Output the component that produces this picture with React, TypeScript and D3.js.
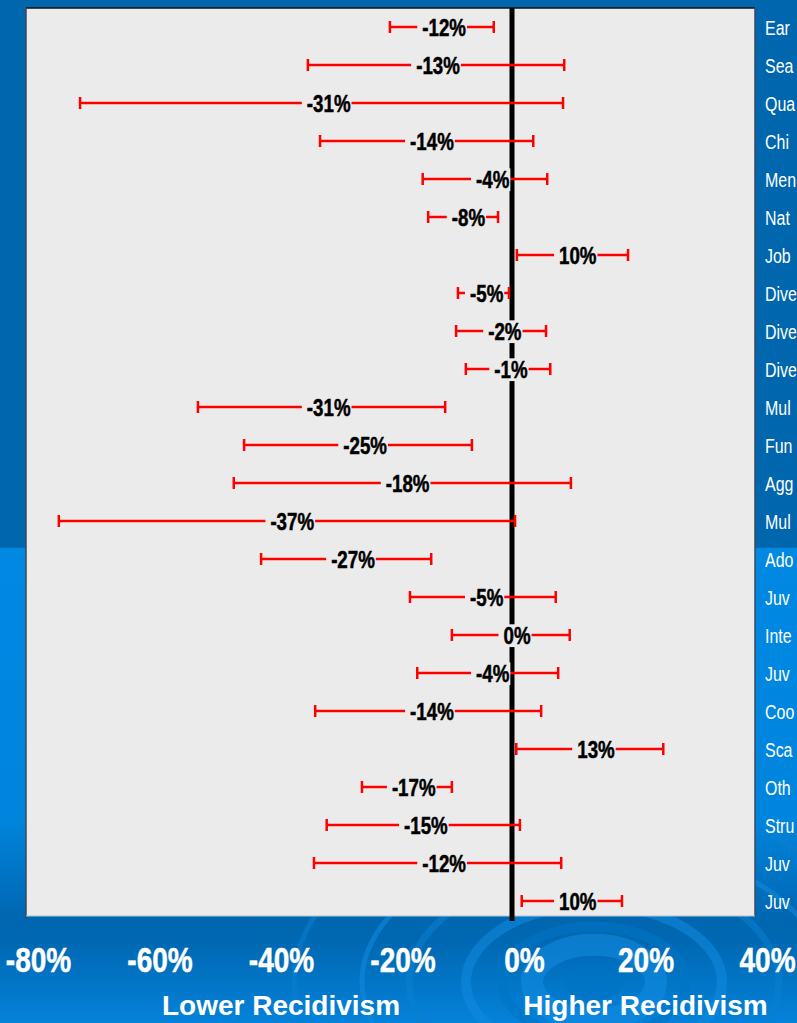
import { useEffect, useRef } from "react";
import * as d3 from "d3";

const WIDTH = 797;
const HEIGHT = 1023;
const PLOT = { LEFT: 26, RIGHT: 755, TOP: 8, BOTTOM: 916 };

const FONT = "'Liberation Sans', Arial, sans-serif";
const NARROW = 0.8; // squeeze to look like Arial Narrow

// program names, top to bottom, as far as they show at the right edge
const programs = [
  "Ear", "Sea", "Qua", "Chi", "Men", "Nat", "Job", "Dive", "Dive", "Dive", "Mul", "Fun",
  "Agg", "Mul", "Ado", "Juv", "Inte", "Juv", "Coo", "Sca", "Oth", "Stru", "Juv", "Juv",
];

// effect on recidivism (%) with the ends of the red bars
const effects = [-12, -13, -31, -14, -4, -8, 10, -5, -2, -1, -31, -25, -18, -37, -27, -5, 0, -4, -14, 13, -17, -15, -12, 10];
const lowerCI = [-20.1, -33.6, -71.1, -31.6, -14.7, -13.8, 0.8, -8.9, -9.2, -7.6, -51.7, -44.1, -45.8, -74.6, -41.3, -16.8, -9.9, -15.6, -32.4, 0.7, -24.7, -30.5, -32.6, 1.6];
const upperCI = [-3.0, 8.6, 8.4, 3.5, 5.8, -2.3, 19.1, -0.5, 5.6, 6.3, -11.0, -6.6, 9.7, 0.5, -13.3, 7.2, 9.5, 7.6, 4.8, 24.9, -9.9, 1.3, 8.1, 18.1];

const xTicks = [-80, -60, -40, -20, 0, 20, 40];
const axisTitles = ["Lower Recidivism", "Higher Recidivism"];
const titleAt = [-40, 20];

const rows = programs.map((name, i) => ({
  id: String(i),
  name,
  effect: effects[i],
  lo: lowerCI[i],
  hi: upperCI[i],
}));

const App = () => {
  const rippleRef = useRef<SVGGElement | null>(null);
  const chartRef = useRef<SVGGElement | null>(null);
  const axisRef = useRef<SVGGElement | null>(null);

  useEffect(() => {
    const xScale = d3.scaleLinear().domain([-80, 40]).range([PLOT.LEFT, PLOT.RIGHT]);
    const yScale = d3
      .scaleBand<string>()
      .domain(rows.map((r) => r.id))
      .range([PLOT.TOP, PLOT.BOTTOM + 4]);
    const yMid = (id: string) => yScale(id)! + yScale.bandwidth() / 2;

    // faint ripples in the background at the bottom
    const rip = d3.select(rippleRef.current);
    rip.selectAll("*").remove();
    const rings = [
      { r: 30, fill: "#0072c2", stroke: "none", w: 0 },
      { r: 62, fill: "none", stroke: "#148de2", w: 22 },
      { r: 92, fill: "none", stroke: "#0074c4", w: 10 },
      { r: 128, fill: "none", stroke: "#128be0", w: 10 },
      { r: 185, fill: "none", stroke: "#0a7fd0", w: 7 },
      { r: 232, fill: "none", stroke: "#128ade", w: 5 },
      { r: 300, fill: "none", stroke: "#0a80d2", w: 5 },
    ];
    rip
      .selectAll("ellipse")
      .data(rings)
      .join("ellipse")
      .attr("cx", 594)
      .attr("cy", 982)
      .attr("rx", (d) => d.r)
      .attr("ry", (d) => d.r * 0.6)
      .attr("fill", (d) => d.fill)
      .attr("stroke", (d) => d.stroke)
      .attr("stroke-width", (d) => d.w)
      .attr("opacity", 0.55);

    const g = d3.select(chartRef.current);
    g.selectAll("*").remove();

    // zero line
    g.append("line")
      .attr("x1", xScale(0))
      .attr("x2", xScale(0))
      .attr("y1", PLOT.TOP)
      .attr("y2", PLOT.BOTTOM + 5)
      .attr("stroke", "#000")
      .attr("stroke-width", 5);

    // error bars
    const bars = g
      .selectAll(".bar")
      .data(rows)
      .join("g")
      .attr("class", "bar")
      .attr("transform", (d) => `translate(0, ${yMid(d.id)})`);

    bars
      .append("line")
      .attr("x1", (d) => xScale(d.lo))
      .attr("x2", (d) => xScale(d.hi))
      .attr("stroke", "#ff0000")
      .attr("stroke-width", 2.5);

    [(d: any) => xScale(d.lo), (d: any) => xScale(d.hi)].forEach((fx) => {
      bars
        .append("line")
        .attr("x1", fx)
        .attr("x2", fx)
        .attr("y1", -6)
        .attr("y2", 6)
        .attr("stroke", "#ff0000")
        .attr("stroke-width", 2.5);
    });

    // value labels on a gray box
    bars.each(function (d) {
      const lab = d3.select(this).append("g");
      lab
        .append("text")
        .attr("transform", `translate(${xScale(d.effect) + 5}, 8.5) scale(0.78, 1)`)
        .attr("text-anchor", "middle")
        .style("font-family", FONT)
        .style("font-weight", "bold")
        .style("font-size", "24px")
        .attr("fill", "#000")
        .attr("stroke", "#000")
        .attr("stroke-width", 0.5)
        .text(`${d.effect}%`);
      const box = (lab.node() as SVGGElement).getBBox();
      lab
        .insert("rect", "text")
        .attr("x", box.x - 5)
        .attr("y", box.y + 2)
        .attr("width", box.width + 6)
        .attr("height", box.height - 4)
        .attr("fill", "#ebebeb");
    });

    // program names at the right
    g.selectAll(".name")
      .data(rows)
      .join("text")
      .attr("class", "name")
      .attr("transform", (d) => `translate(${PLOT.RIGHT + 10}, ${yMid(d.id) + 8}) scale(0.76, 1)`)
      .style("font-family", FONT)
      .style("font-size", "21px")
      .attr("fill", "#fff")
      .text((d) => d.name);

    // x axis
    const axis = d3.select(axisRef.current);
    axis.selectAll("*").remove();
    axis.call(
      d3
        .axisBottom(xScale)
        .tickValues(xTicks)
        .tickSize(0)
        .tickFormat((d) => `${d}%`) as any
    );
    axis.select(".domain").remove();
    axis
      .selectAll(".tick text")
      .attr("x", null)
      .attr("y", null)
      .attr("dy", null)
      .attr("transform", `translate(12, 0) scale(${NARROW}, 1)`)
      .attr("fill", "#fff")
      .attr("stroke", "#fff")
      .attr("stroke-width", 0.5)
      .style("font-family", FONT)
      .style("font-weight", "bold")
      .style("font-size", "35px");

    axis
      .selectAll(".title")
      .data(axisTitles)
      .join("text")
      .attr("class", "title")
      .attr("x", (_, i) => xScale(titleAt[i]) + 12)
      .attr("y", 43)
      .attr("text-anchor", "middle")
      .attr("fill", "#fff")
      .style("font-family", FONT)
      .style("font-weight", "bold")
      .style("font-size", "28px")
      .text((d) => d);
  }, []);

  return (
    <div style={{ position: "absolute", left: 0, top: 0, width: WIDTH, height: HEIGHT, overflow: "hidden" }}>
      <svg width={WIDTH} height={HEIGHT} style={{ display: "block" }}>
        <defs>
          <linearGradient id="bg" x1="0" y1="0" x2="0" y2="1">
            <stop offset="0" stopColor="#0066ae" />
            <stop offset="0.535" stopColor="#0066ae" />
            <stop offset="0.536" stopColor="#0088e2" />
            <stop offset="0.8" stopColor="#0085de" />
            <stop offset="0.9" stopColor="#0066b0" />
            <stop offset="0.92" stopColor="#0068b2" />
            <stop offset="1" stopColor="#0482da" />
          </linearGradient>
        </defs>
        <rect width={WIDTH} height={HEIGHT} fill="url(#bg)" />
        <g ref={rippleRef} />
        <rect
          x={PLOT.LEFT}
          y={PLOT.TOP}
          width={PLOT.RIGHT - PLOT.LEFT}
          height={PLOT.BOTTOM - PLOT.TOP}
          fill="#ebebeb"
        />
        <line x1={PLOT.LEFT} x2={PLOT.RIGHT} y1={PLOT.TOP} y2={PLOT.TOP} stroke="#111" strokeWidth={1.5} />
        <line x1={PLOT.LEFT} x2={PLOT.LEFT} y1={PLOT.TOP} y2={PLOT.BOTTOM + 3} stroke="#3a4a5a" strokeWidth={1.5} />
        <line x1={PLOT.RIGHT} x2={PLOT.RIGHT} y1={PLOT.TOP} y2={PLOT.BOTTOM} stroke="#3a4a5a" strokeWidth={1.5} />
        <line x1={PLOT.LEFT} x2={PLOT.RIGHT} y1={PLOT.BOTTOM} y2={PLOT.BOTTOM} stroke="#b8c0c8" strokeWidth={1} />
        <g ref={chartRef} />
        <g ref={axisRef} transform="translate(0, 972)" />
      </svg>
    </div>
  );
};

export default App;
